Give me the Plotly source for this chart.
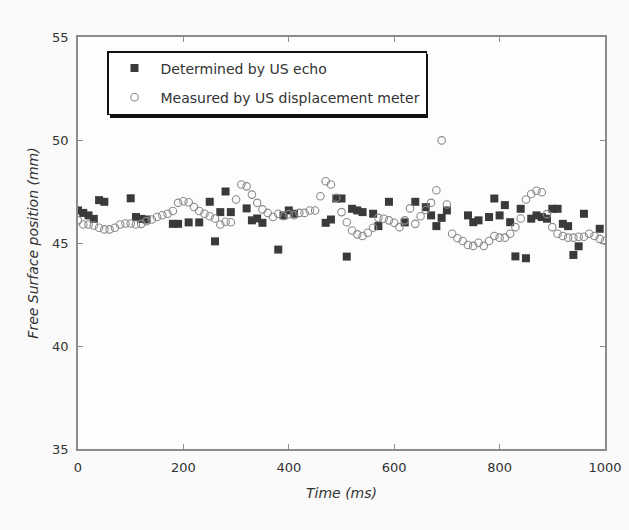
import plotly.graph_objects as go

# Determined by US echo (squares)
echo_t = [0, 10, 20, 30, 40, 50, 100, 110, 120, 130, 180, 190, 210, 230, 250, 260, 270, 280, 290,
          320, 330, 340, 350, 380, 390, 400, 410, 470, 480, 490, 500, 510, 520, 530, 540, 560, 570,
          590, 620, 640, 660, 670, 680, 690, 700, 740, 750, 760, 780, 790, 800, 810, 820, 830, 840,
          850, 860, 870, 880, 890, 900, 910, 920, 930, 940, 950, 960, 990]
echo_v = [46.58, 46.46, 46.34, 46.17, 47.08, 47.00, 47.17, 46.26, 46.17, 46.14, 45.93, 45.93, 46.00,
          46.00, 47.00, 45.08, 46.50, 47.50, 46.50, 46.68, 46.10, 46.19, 45.98, 44.68, 46.34, 46.58,
          46.42, 45.98, 46.14, 47.16, 47.16, 44.34, 46.66, 46.58, 46.50, 46.42, 45.82, 47.00, 46.00,
          47.00, 46.74, 46.34, 45.82, 46.22, 46.58, 46.34, 46.01, 46.10, 46.26, 47.16, 46.34, 46.84,
          46.01, 44.35, 46.66, 44.26, 46.18, 46.34, 46.26, 46.18, 46.66, 46.66, 45.93, 45.82, 44.42,
          44.84, 46.42, 45.69]

# Measured by US displacement meter (circles)
meter_t = list(range(0, 1001, 10))
meter_v = [46.10, 45.90, 45.90, 45.85, 45.74, 45.66, 45.66, 45.74, 45.90, 45.95,
           45.95, 45.90, 45.93, 46.06, 46.14, 46.26, 46.35, 46.42, 46.55, 46.95,
           47.03, 46.98, 46.75, 46.55, 46.42, 46.30, 46.19, 45.90, 46.03, 46.01,
           47.11, 47.84, 47.75, 47.35, 46.95, 46.63, 46.46, 46.26, 46.42, 46.30,
           46.40, 46.35, 46.46, 46.46, 46.58, 46.58, 47.27, 48.00, 47.84, 47.20,
           46.50, 46.01, 45.61, 45.42, 45.34, 45.50, 45.74, 46.22, 46.18, 46.10,
           45.98, 45.77, 46.10, 46.68, 45.93, 46.30, 46.60, 46.95, 47.56, 49.98,
           46.87, 45.45, 45.23, 45.10, 44.90, 44.86, 45.01, 44.86, 45.10, 45.34,
           45.26, 45.26, 45.45, 45.77, 46.19, 47.11, 47.38, 47.54, 47.46, 46.40,
           45.77, 45.45, 45.34, 45.26, 45.26, 45.30, 45.30, 45.45, 45.34, 45.20,
           45.10]

x_ticks = [0, 200, 400, 600, 800, 1000]
y_ticks = [35, 40, 45, 50, 55]

FONT = "DejaVu Sans"
TXT = "#333333"

fig = go.Figure()
fig.add_trace(go.Scatter(
    x=echo_t, y=echo_v, mode="markers", name="Determined by US echo",
    legendgroup="a",
    marker=dict(symbol="square", size=8, color="#3a3a3a", line=dict(width=0)),
))
fig.add_trace(go.Scatter(
    x=meter_t, y=meter_v, mode="markers", name="Measured by US displacement meter",
    legendgroup="b",
    marker=dict(symbol="circle-open", size=7.5, color="#8a8a8a", line=dict(width=1.1, color="#8a8a8a")),
))

L, R, T, B = 78, 24, 37, 81
W, H = 629, 530
pw, ph = W - L - R, H - T - B

def px2paper(px, py):
    return (px - L) / pw, (H - B - py) / ph

lx, ly = px2paper(107, 51)
# legend shadow
sx0, sy0 = px2paper(110, 54)
sx1, sy1 = px2paper(428, 118)
fig.add_shape(type="rect", xref="paper", yref="paper", x0=sx0, x1=sx1, y0=sy1, y1=sy0,
              fillcolor="#111111", line=dict(width=0), layer="above")

axis_common = dict(
    showline=True, linecolor="#8c8c8c", linewidth=1.5, mirror="allticks",
    ticks="inside", ticklen=5, tickcolor="#8c8c8c", tickwidth=1.2,
    showgrid=False, zeroline=False, automargin=False,
    tickfont=dict(family=FONT, size=13, color=TXT),
)

fig.update_layout(
    width=W, height=H,
    margin=dict(l=L, r=R, t=T, b=B, autoexpand=False),
    paper_bgcolor="#fafafa", plot_bgcolor="#fdfdfd",
    font=dict(family=FONT, size=12, color=TXT),
    showlegend=True,
    legend=dict(
        x=lx, y=ly, xanchor="left", yanchor="top",
        bgcolor="#ffffff", bordercolor="#111111", borderwidth=1.5,
        font=dict(family=FONT, size=14, color=TXT),
        tracegroupgap=8, itemwidth=42,
    ),
    xaxis=dict(range=[0, 1000], tickvals=x_ticks, ticklabelstandoff=6, **axis_common,
               title=dict(text="<i>Time (ms)</i>", font=dict(family=FONT, size=14, color=TXT), standoff=14)),
    yaxis=dict(range=[35, 55], tickvals=y_ticks, ticklabelstandoff=5, **axis_common,
               title=dict(text="<i>Free Surface position (mm)</i>", font=dict(family=FONT, size=14, color=TXT), standoff=10)),
)

fig.write_html("out.html")
